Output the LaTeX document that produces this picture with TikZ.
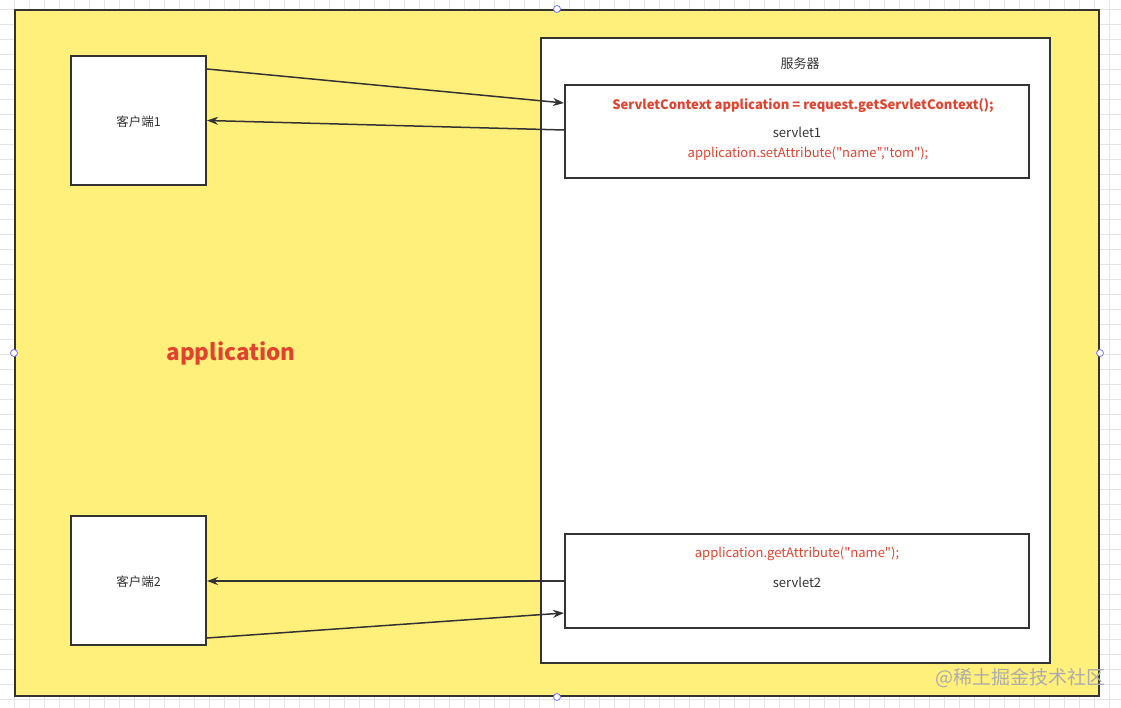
\documentclass[tikz,border=0pt]{standalone}
\usepackage{fontspec}
\setmainfont{Noto Sans CJK SC}[Ligatures=TeXOff]
\usetikzlibrary{arrows.meta,calc}

\definecolor{appyellow}{HTML}{FFEF7B}
\definecolor{codered}{HTML}{E2432F}
\definecolor{linegray}{HTML}{333333}
\definecolor{gridgray}{HTML}{E4E4E4}

\tikzset{
  box/.style={draw=linegray,line width=2pt,fill=white,inner sep=0pt},
  flow/.style={draw=linegray,line width=1.5pt,-{Stealth[length=11pt,width=8pt]}},
  code/.style={text=codered,font=\fontsize{13}{15}\selectfont},
  plain/.style={text=linegray,font=\fontsize{13}{15}\selectfont},
  handle/.style={draw=blue!55,fill=white,line width=0.8pt}
}

\begin{document}
\begin{tikzpicture}[x=1pt,y=-1pt]
\useasboundingbox[fill=white] (0,0) rectangle (1121,708);
% grid
\foreach \x in {14,29,...,1121} \draw[gridgray,line width=0.8pt] (\x,0)--(\x,708);
\foreach \y in {9,24,...,708} \draw[gridgray,line width=0.8pt] (0,\y)--(1121,\y);

% boxes
\node[box,fill=appyellow,minimum width=1084pt,minimum height=686pt] (app) at (557,353) {};
\node[box,minimum width=509pt,minimum height=625pt] (server) at (795.5,350.5) {};
\node[box,minimum width=464pt,minimum height=93pt] (s1) at (797,131.5) {};
\node[box,minimum width=464pt,minimum height=94pt] (s2) at (797,581) {};
\node[box,minimum width=135pt,minimum height=129pt] (c1) at (138.5,120.5) {};
\node[box,minimum width=135pt,minimum height=129pt] (c2) at (138.5,580.5) {};

% texts
\node[plain,font=\fontsize{12.5}{14}\selectfont] (c1txt) at (138.5,121.5) {客户端1};
\node[plain,font=\fontsize{12.5}{14}\selectfont] (c2txt) at (138.5,581.5) {客户端2};
\node[plain] (srvtxt) at (800,64) {服务器};
\node[code,font=\fontsize{13}{15}\bfseries] (ctx) at (803,105.5) {ServletContext application = request.getServletContext();};
\node[plain] (s1txt) at (797,132) {servlet1};
\node[code] (settxt) at (808,154) {application.setAttribute("name","tom");};
\node[code] (gettxt) at (797,554) {application.getAttribute("name");};
\node[plain] (s2txt) at (797,582) {servlet2};
\node[text=codered,font=\fontsize{22.5}{26}\bfseries\selectfont] (apptxt) at (231,353) {application};

% arrows
\draw[flow] ([yshift=-14pt]c1.north east) -- ([yshift=-19pt]s1.north west);
\draw[flow] ([yshift=-46pt]s1.north west) -- (c1.east);
\draw[flow] (s2.west) -- (s2.west -| c2.east);
\draw[flow] ([yshift=8pt]c2.south east) -- ([yshift=16pt]s2.south west);

% selection handles
\foreach \p in {north,west,east,south} \draw[handle] (app.\p) circle (3.5pt);

% watermark
\node[text=gray!65,font=\fontsize{19}{22}\selectfont] (mark) at (1020,678) {@稀土掘金技术社区};
\end{tikzpicture}
\end{document}
